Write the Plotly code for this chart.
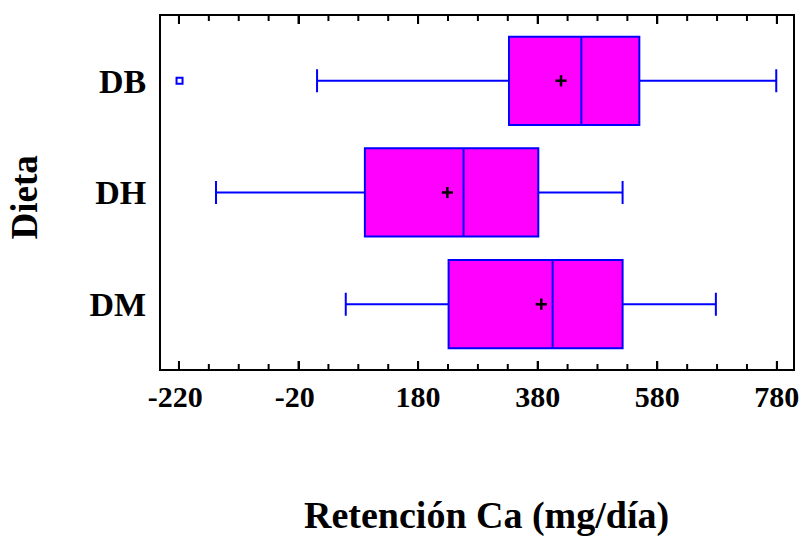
import plotly.graph_objects as go

# Calcium retention summaries per diet (mg/día)
dietas = ["DB", "DH", "DM"]
bigote_inf = [11, -158, 59]
q1 = [332, 91, 231]
mediana = [453, 256, 405]
q3 = [550, 381, 522]
bigote_sup = [779, 522, 678]
media = [419, 229, 386]

# Atypical observation
atipico_dieta = ["DB"]
atipico_valor = [-219]

tick_vals = [-220, -20, 180, 380, 580, 780]
tick_text = ["-220\u00a0", "-20\u00a0", "180", "380", "580", "780"]
minor_step = 50

FONT = "Liberation Serif, Times New Roman, serif"
AZUL = "#0000FF"
MAGENTA = "#FF00FF"
X_RANGE = [-250, 807]
PLOT_H = 536 - 16 - 167  # plot area height in px

fig = go.Figure()

fig.add_trace(go.Box(
    y=dietas,
    q1=q1,
    median=mediana,
    q3=q3,
    lowerfence=bigote_inf,
    upperfence=bigote_sup,
    orientation="h",
    fillcolor=MAGENTA,
    line=dict(color=AZUL, width=2),
    width=0.79,
    whiskerwidth=0.26,
    boxpoints=False,
    showlegend=False,
    hoverinfo="skip",
))

# Means as black crosses
fig.add_trace(go.Scatter(
    x=media,
    y=dietas,
    mode="markers",
    marker=dict(symbol="cross-thin", size=8, line=dict(color="black", width=2.5)),
    showlegend=False,
    hoverinfo="skip",
))

# Outlier point
fig.add_trace(go.Scatter(
    x=atipico_valor,
    y=atipico_dieta,
    mode="markers",
    marker=dict(symbol="square-open", size=6, color=AZUL, line=dict(color=AZUL, width=2)),
    showlegend=False,
    hoverinfo="skip",
))

# Short ticks every 50 units on the bottom and top frame edges, pointing inward
def tick_shapes(xv, length_px):
    h = length_px / PLOT_H
    line = dict(color="black", width=2)
    return [
        dict(type="line", xref="x", yref="paper", x0=xv, x1=xv, y0=0, y1=h, line=line, layer="above"),
        dict(type="line", xref="x", yref="paper", x0=xv, x1=xv, y0=1, y1=1 - h, line=line, layer="above"),
    ]

shapes = []
v = tick_vals[0]
while v <= X_RANGE[1]:
    if v >= X_RANGE[0]:
        shapes += tick_shapes(v, 8 if v in tick_vals else 5)
    v += minor_step

fig.update_layout(
    width=803,
    height=536,
    margin=dict(l=161, r=10, t=16, b=167, autoexpand=False),
    paper_bgcolor="white",
    plot_bgcolor="white",
    font=dict(family=FONT, color="black"),
    shapes=shapes,
    xaxis=dict(
        range=X_RANGE,
        automargin=False,
        tickmode="array",
        tickvals=tick_vals,
        ticktext=tick_text,
        ticks="inside",
        ticklen=8,
        tickwidth=2,
        tickcolor="black",
        showline=True,
        linecolor="black",
        linewidth=2,
        mirror="allticks",
        showgrid=False,
        zeroline=False,
        tickfont=dict(family=FONT, size=30, weight="bold"),
    ),
    yaxis=dict(
        type="category",
        automargin=False,
        categoryorder="array",
        categoryarray=["DM", "DH", "DB"],
        range=[-0.58, 2.58],
        ticks="",
        showline=True,
        linecolor="black",
        linewidth=2,
        mirror=True,
        showgrid=False,
        zeroline=False,
        tickfont=dict(family=FONT, size=34, weight="bold"),
        ticklabelstandoff=6,
    ),
    annotations=[
        dict(
            text="Retención Ca (mg/día)",
            xref="paper", yref="paper",
            x=(486.7 - 161) / 632, y=-(515 - 369) / PLOT_H,
            xanchor="center", yanchor="middle",
            showarrow=False,
            font=dict(family=FONT, size=38, weight="bold"),
        ),
        dict(
            text="Dieta",
            xref="paper", yref="paper",
            x=(24 - 161) / 632, y=(369 - 197.5) / PLOT_H,
            xanchor="center", yanchor="middle",
            textangle=-90,
            showarrow=False,
            font=dict(family=FONT, size=37, weight="bold"),
        ),
    ],
)

fig.write_html("out.html")
